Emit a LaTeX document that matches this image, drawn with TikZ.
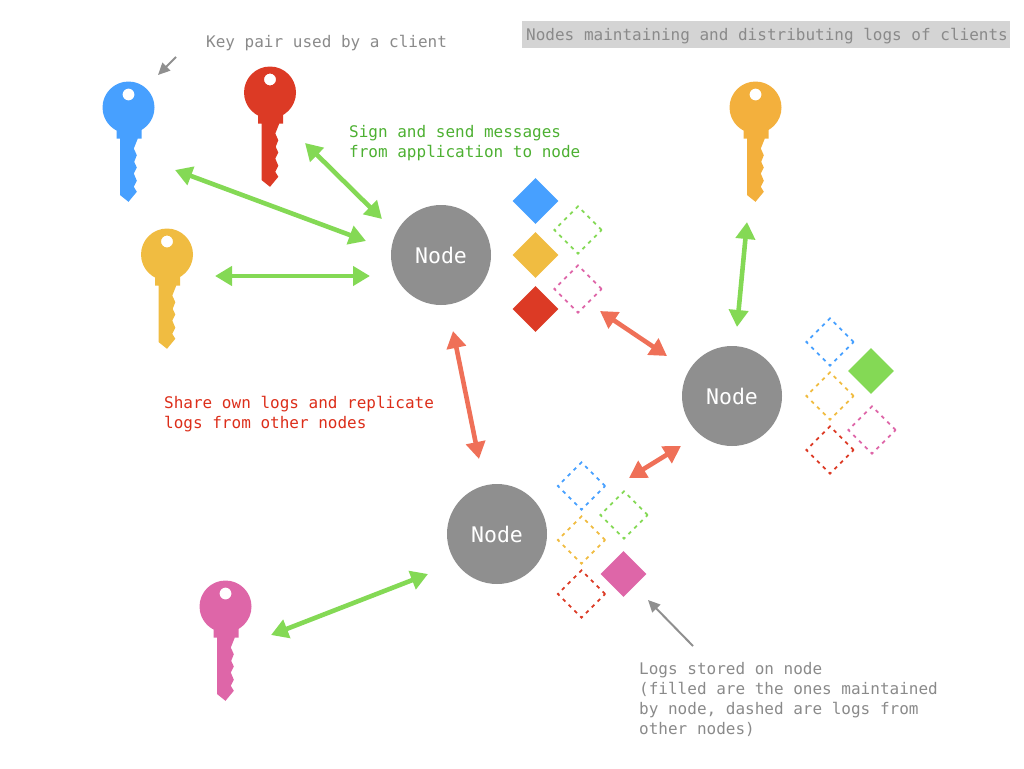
\documentclass[tikz,border=0pt]{standalone}
\usepackage{fontspec}
\setmonofont{DejaVu Sans Mono}
\usetikzlibrary{shapes.geometric,arrows.meta}
\definecolor{keyblue}{HTML}{47A0FF}
\definecolor{keyred}{HTML}{DC3A25}
\definecolor{keyyellow}{HTML}{F0BC41}
\definecolor{keyorange}{HTML}{F3B03D}
\definecolor{keypink}{HTML}{DE66A8}
\definecolor{loggreen}{HTML}{84D955}
\definecolor{syncred}{HTML}{EF7058}
\definecolor{nodegrey}{HTML}{8F8F8F}
\definecolor{notegrey}{HTML}{8A8A8A}
\definecolor{signtext}{HTML}{4DB032}
\definecolor{sharetext}{HTML}{DC2E1A}
\tikzset{
peer/.style={circle, fill=nodegrey, text=white, minimum size=100pt, inner sep=0pt, font=\ttfamily\fontsize{21.5}{24}\selectfont},
owned/.style={diamond, fill=#1, minimum size=46pt, inner sep=0pt},
copied/.style={diamond, draw=#1, line width=1.8pt, dash pattern=on 3.6pt off 4.6pt, minimum size=48pt, inner sep=0pt},
note/.style={anchor=north west, align=left, inner sep=0pt, text=#1, font=\ttfamily\fontsize{16}{20}\selectfont},
sign/.style={draw=loggreen, line width=4.6pt, {Triangle[length=17pt,width=19pt]}-{Triangle[length=17pt,width=19pt]}},
sync/.style={draw=syncred, line width=4.6pt, {Triangle[length=17pt,width=19pt]}-{Triangle[length=17pt,width=19pt]}},
pointer/.style={draw=nodegrey, line width=2pt, -{Triangle[length=12pt,width=11pt]}},
pics/clientkey/.style={code={
    \fill[#1, even odd rule] (0,0) circle (26) (0,-13) circle (6);
    \fill[#1] (-12,20) -- (13,20) -- (13,31) -- (9.3,31) -- (5.3,41) -- (8.3,47.7) -- (5.7,54.3) -- (8.3,60) -- (5.3,66) -- (8.3,73.3) -- (5.3,79.3) -- (8.3,84.3) -- (0,94.3) -- (-8.3,87.7) -- (-8.3,31) -- (-12,31) -- cycle;
}}
}

\begin{document}
\begin{tikzpicture}[x=1pt, y=-1pt]
    \useasboundingbox (0,0) rectangle (1024,768);
    % Place keys
    \pic at (128.5,107.5) {clientkey=keyblue};
    \pic at (270,92.5) {clientkey=keyred};
    \pic at (167,254.5) {clientkey=keyyellow};
    \pic at (755.5,107.5) {clientkey=keyorange};
    \pic at (225.5,606.5) {clientkey=keypink};
    % Place nodes
    \node [peer] (nodea) at (441,255) {Node};
    \node [peer] (nodeb) at (732,396) {Node};
    \node [peer] (nodec) at (497,534) {Node};
    % Logs on first node
    \node [owned=keyblue] (abluelog) at (535.5,201) {};
    \node [owned=keyyellow] (ayellowlog) at (535.5,255) {};
    \node [owned=keyred] (aredlog) at (535.5,309) {};
    \node [copied=loggreen] (agreenlog) at (578,230) {};
    \node [copied=keypink] (apinklog) at (578,289) {};
    % Logs on second node
    \node [copied=keyblue] (bbluelog) at (830,342) {};
    \node [copied=keyyellow] (byellowlog) at (830,396) {};
    \node [copied=keyred] (bredlog) at (830,450) {};
    \node [owned=loggreen] (bgreenlog) at (871,371) {};
    \node [copied=keypink] (bpinklog) at (872,430) {};
    % Logs on third node
    \node [copied=keyblue] (cbluelog) at (581.5,486) {};
    \node [copied=loggreen] (cgreenlog) at (624,515) {};
    \node [copied=keyyellow] (cyellowlog) at (581.5,540) {};
    \node [copied=keyred] (credlog) at (581.5,594) {};
    \node [owned=keypink] (cpinklog) at (623.5,574) {};
    % Place texts
    \node [note=notegrey] (keynote) at (206,35) {Key pair used by a client};
    \node [fill=nodegrey!38, minimum width=488pt, minimum height=27pt, inner sep=0pt] (titlebar) at (766,34.5) {};
    \node [note=notegrey] (titlenote) at (526,28) {Nodes maintaining and distributing logs of clients};
    \node [note=signtext] (signnote) at (349,125) {Sign and send messages\\from application to node};
    \node [note=sharetext] (sharenote) at (164,396) {Share own logs and replicate\\logs from other nodes};
    \node [note=notegrey] (lognote) at (639,662) {Logs stored on node\\(filled are the ones maintained\\by node, dashed are logs from\\other nodes)};
    % Arrow ends
    \coordinate (bluekeyend) at (175,170);
    \coordinate (bluenodeend) at (366,241);
    \coordinate (redkeyend) at (305,143);
    \coordinate (rednodeend) at (382,219);
    \coordinate (yellowkeyend) at (215,276);
    \coordinate (yellownodeend) at (370,276);
    \coordinate (orangekeyend) at (747,222);
    \coordinate (orangenodeend) at (737,327);
    \coordinate (pinkkeyend) at (271,635);
    \coordinate (pinknodeend) at (428,574);
    \coordinate (abstart) at (600,311);
    \coordinate (abend) at (667,356);
    \coordinate (acstart) at (453,331);
    \coordinate (acend) at (479,459);
    \coordinate (cbstart) at (629,478);
    \coordinate (cbend) at (681,446);
    \coordinate (keytail) at (176,57);
    \coordinate (keyhead) at (158,75);
    \coordinate (logtail) at (693,646);
    \coordinate (loghead) at (648,600);
    % Draw edges
    \path [sign] (bluekeyend) -- (bluenodeend);
    \path [sign] (redkeyend) -- (rednodeend);
    \path [sign] (yellowkeyend) -- (yellownodeend);
    \path [sign] (orangekeyend) -- (orangenodeend);
    \path [sign] (pinkkeyend) -- (pinknodeend);
    \path [sync] (abstart) -- (abend);
    \path [sync] (acstart) -- (acend);
    \path [sync] (cbstart) -- (cbend);
    \path [pointer] (keytail) -- (keyhead);
    \path [pointer] (logtail) -- (loghead);
\end{tikzpicture}
\end{document}
